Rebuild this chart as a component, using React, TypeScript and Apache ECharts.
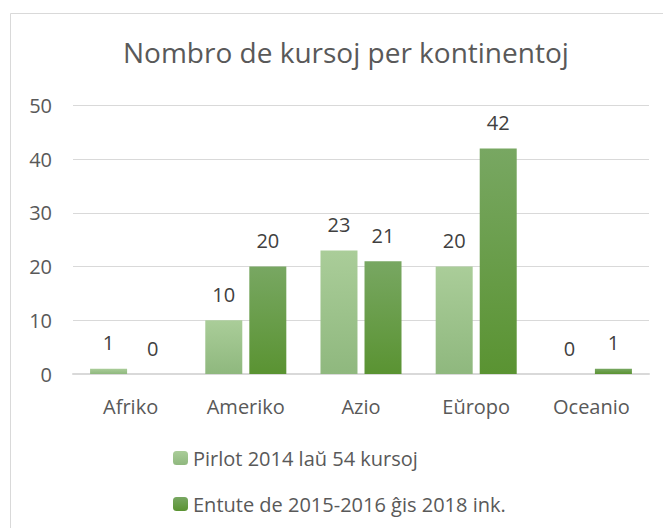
import React, { useEffect, useRef } from "react";
import * as echarts from "echarts";

const categories = ["Afriko", "Ameriko", "Azio", "Eŭropo", "Oceanio"];
const seriesNames = ["Pirlot 2014 laŭ 54 kursoj", "Entute de 2015-2016 ĝis 2018 ink."];
const before2014 = [1, 10, 23, 20, 0];
const total2015to2018 = [0, 20, 21, 42, 1];
const yTicks = [0, 10, 20, 30, 40, 50];

const FONT = "'Open Sans', sans-serif";

export default function App() {
  const ref = useRef<HTMLDivElement>(null);
  useEffect(() => {
    if (!ref.current) return;
    const chart = echarts.init(ref.current, undefined, { renderer: "svg" });
    const label = {
      show: true,
      position: "top",
      distance: 16,
      fontFamily: FONT,
      fontSize: 20,
      color: "#404040",
    };
    chart.setOption({
      animation: false,
      backgroundColor: "#ffffff",
      title: {
        text: "Nombro de kursoj per kontinentoj",
        left: 123,
        top: 38,
        padding: 0,
        textStyle: { fontFamily: FONT, fontSize: 28, fontWeight: "normal", color: "#595959" },
      },
      graphic: [
        {
          type: "rect",
          left: 10,
          top: 13,
          z: -1,
          shape: { width: 700, height: 600 },
          style: { fill: "#ffffff", stroke: "#d9d9d9", lineWidth: 1 },
        },
      ],
      legend: {
        orient: "vertical",
        left: 173,
        top: 448,
        padding: 0,
        itemWidth: 15,
        itemHeight: 14,
        itemGap: 26,
        textStyle: { fontFamily: FONT, fontSize: 20, color: "#595959" },
        data: seriesNames,
      },
      grid: { left: 73, right: 14, top: 105.5, bottom: 154, containLabel: false },
      xAxis: {
        type: "category",
        data: categories,
        axisLine: { lineStyle: { color: "#d9d9d9", width: 2 } },
        axisTick: { show: false },
        axisLabel: { fontFamily: FONT, fontSize: 20, color: "#595959", margin: 22 },
      },
      yAxis: {
        type: "value",
        min: yTicks[0],
        max: yTicks[yTicks.length - 1],
        interval: 10,
        axisLine: { show: false },
        axisTick: { show: false },
        axisLabel: { fontFamily: FONT, fontSize: 20, color: "#595959", margin: 21 },
        splitLine: { lineStyle: { color: "#d9d9d9", width: 1 } },
      },
      series: [
        {
          name: seriesNames[0],
          type: "bar",
          data: before2014,
          barWidth: 37,
          barGap: "19%",
          label,
          itemStyle: {
            color: new echarts.graphic.LinearGradient(0, 0, 0, 1, [
              { offset: 0, color: "#aacd99" },
              { offset: 1, color: "#8fb87e" },
            ]),
          },
        },
        {
          name: seriesNames[1],
          type: "bar",
          data: total2015to2018,
          barWidth: 37,
          barGap: "19%",
          label,
          itemStyle: {
            color: new echarts.graphic.LinearGradient(0, 0, 0, 1, [
              { offset: 0, color: "#78a762" },
              { offset: 1, color: "#5a9332" },
            ]),
          },
        },
      ],
    });
    return () => chart.dispose();
  }, []);
  return (
    <div
      ref={ref}
      style={{ position: "fixed", left: 0, top: 0, width: 663, height: 528 }}
    />
  );
}
